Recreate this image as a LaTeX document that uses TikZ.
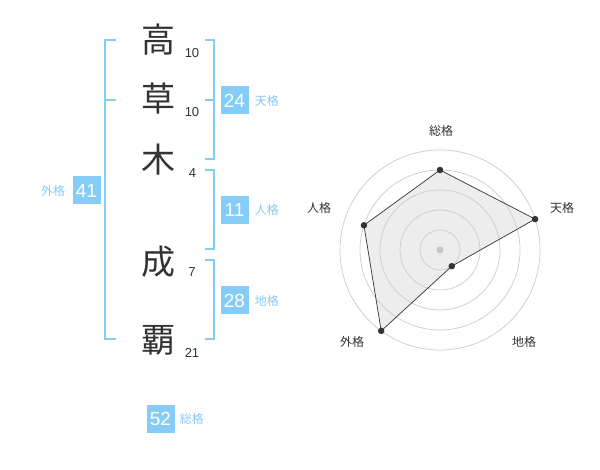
\documentclass[tikz,border=0pt]{standalone}
\usepackage{fontspec}
\setmainfont{Liberation Sans}
\newfontfamily\jp{Noto Sans CJK JP}
\definecolor{kblue}{RGB}{133,204,247}
\definecolor{ink}{RGB}{51,51,51}
\begin{document}
\begin{tikzpicture}[x=1pt,y=-1pt,
  kanji/.style={font=\jp\fontsize{34}{34}\selectfont, text=ink, inner sep=0pt},
  strk/.style={font=\fontsize{13}{13}\selectfont, text=ink, inner sep=0pt},
  numbox/.style={fill=kblue, text=white, minimum width=28pt, minimum height=28pt, inner sep=0pt, font=\fontsize{19}{19}\selectfont},
  kaku/.style={font=\jp\fontsize{12}{12}\selectfont, text=kblue, inner sep=0pt},
  brk/.style={draw=kblue, line width=2pt},
  ring/.style={draw=black!20, line width=0.7pt},
  dot/.style={circle, fill=ink, minimum size=6.5pt, inner sep=0pt},
  axlbl/.style={font=\jp\fontsize{12}{12}\selectfont, text=ink, inner sep=0pt}]
\useasboundingbox (0,0) rectangle (600,470);
\fill[white] (0,0) rectangle (600,470);

% characters
\node[kanji] (c1) at (158,40) {高};
\node[kanji] (c2) at (158,99) {草};
\node[kanji] (c3) at (158,160) {木};
\node[kanji] (c5) at (158,262) {成};
\node[kanji] (c6) at (158,340) {覇};
% stroke counts
\node[strk] (n1) at (192,53) {10};
\node[strk] (n2) at (192,112) {10};
\node[strk] (n3) at (192.5,173) {4};
\node[strk] (n5) at (192,272) {7};
\node[strk] (n6) at (192,353) {21};

% left bracket (gaikaku)
\coordinate (L1) at (116,40);
\coordinate (L2) at (116,339);
\coordinate (Lm) at (116,100);
\draw[brk] (L1) -- (105,40) -- (105,339) -- (L2);
\draw[brk] (105,100) -- (Lm);

% right brackets
\coordinate (R1a) at (205,40);
\coordinate (R1b) at (205,159);
\draw[brk] (R1a) -- (214,40) -- (214,159) -- (R1b);
\draw[brk] (214,100) -- (205,100);
\coordinate (R2a) at (205,170);
\coordinate (R2b) at (205,249);
\draw[brk] (R2a) -- (214,170) -- (214,249) -- (R2b);
\coordinate (R3a) at (205,260);
\coordinate (R3b) at (205,339);
\draw[brk] (R3a) -- (214,260) -- (214,339) -- (R3b);

% boxes
\node[numbox] (b24) at (234.5,100.5) {24};
\node[kaku, anchor=west] (k24) at ([xshift=6pt]b24.east) {天格};
\node[numbox] (b11) at (234.5,210) {11};
\node[kaku, anchor=west] (k11) at ([xshift=6pt]b11.east) {人格};
\node[numbox] (b28) at (234.5,300.5) {28};
\node[kaku, anchor=west] (k28) at ([xshift=6pt]b28.east) {地格};
\node[numbox] (b41) at (86.5,190.5) {41};
\node[kaku, anchor=east] (k41) at ([xshift=-7pt]b41.west) {外格};
\node[numbox] (b52) at (160.5,419) {52};
\node[kaku, anchor=west] (k52) at ([xshift=5pt]b52.east) {総格};

% radar chart
\coordinate (ctr) at (440,250);
\path (ctr) ++(-90:80) coordinate (p1);
\path (ctr) ++(-18:100) coordinate (p2);
\path (ctr) ++(54:20) coordinate (p3);
\path (ctr) ++(126:100) coordinate (p4);
\path (ctr) ++(198:80) coordinate (p5);
\fill[black!7] (p1) -- (p2) -- (p3) -- (p4) -- (p5) -- cycle;
\foreach \r in {20,40,60,80,100} \draw[ring] (ctr) circle (\r);
\fill[black!22] (ctr) circle (3.5);
\draw[draw=ink, line width=0.7pt] (p1) -- (p2) -- (p3) -- (p4) -- (p5) -- cycle;
\node[dot] (d1) at (p1) {};
\node[dot] (d2) at (p2) {};
\node[dot] (d3) at (p3) {};
\node[dot] (d4) at (p4) {};
\node[dot] (d5) at (p5) {};
\node[axlbl] (a1) at (441,131) {総格};
\node[axlbl] (a2) at (562,208) {天格};
\node[axlbl] (a3) at (524,342) {地格};
\node[axlbl] (a4) at (352,342) {外格};
\node[axlbl] (a5) at (319,208) {人格};
\end{tikzpicture}
\end{document}
